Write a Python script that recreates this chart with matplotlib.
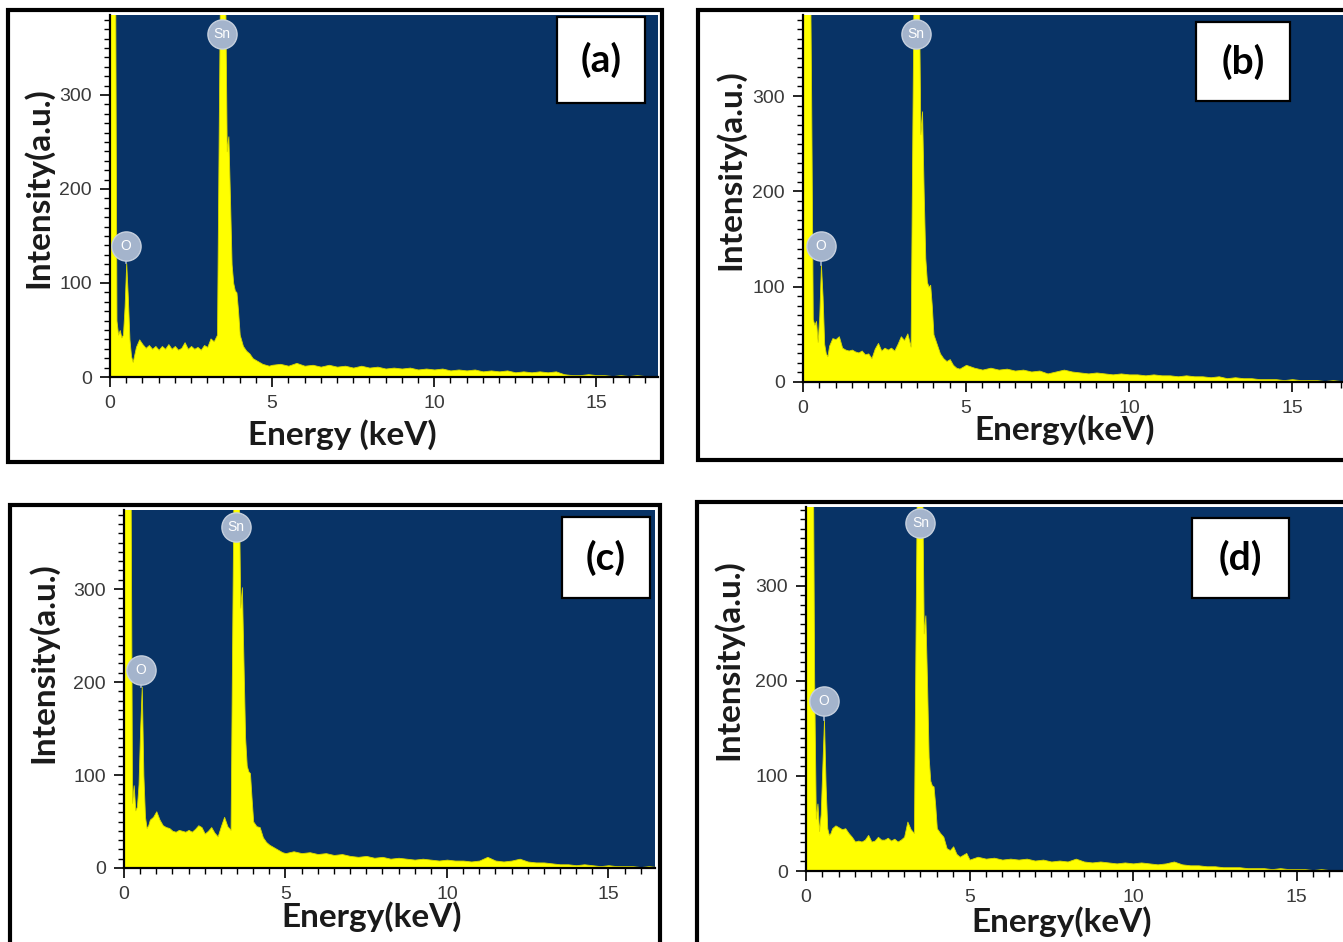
import numpy as np
import matplotlib.pyplot as plt
from matplotlib.patches import Rectangle
from matplotlib.ticker import MultipleLocator

W, H = 1343, 942

# energy channels (keV): fine grid below 5 keV, coarser tail above
energy_low = [0.0, 0.05, 0.1, 0.15, 0.2, 0.25, 0.3, 0.35, 0.4, 0.45, 0.5, 0.55, 0.6, 0.65, 0.7, 0.75, 0.8,
              0.9, 1.0, 1.1, 1.2, 1.3, 1.4, 1.5, 1.6, 1.7, 1.8, 1.9, 2.0,
              2.1, 2.2, 2.3, 2.4, 2.5, 2.6, 2.7, 2.8, 2.9, 3.0, 3.1, 3.2, 3.3,
              3.35, 3.4, 3.45, 3.5, 3.55, 3.6, 3.65, 3.7, 3.75, 3.8, 3.85, 3.9, 3.95, 4.0,
              4.1, 4.2, 4.3, 4.4, 4.5, 4.6, 4.7, 4.8, 4.9, 5.0]
energy_tail = np.arange(5.25, 17.01, 0.25)
energy = np.concatenate([energy_low, energy_tail])

counts_a = [450, 500, 500, 500, 60, 45, 50, 42, 45, 75, 121, 85, 40, 22, 16, 24, 32,
            40, 35, 31, 34, 30, 33, 29, 33, 30, 35, 30, 33,
            29, 31, 37, 30, 33, 30, 32, 29, 34, 32, 41, 38, 45,
            250, 450, 460, 450, 420, 240, 256, 190, 120, 100, 92, 90, 70, 45,
            33, 28, 25, 20, 18, 16, 14, 13, 12, 13,
            14, 12, 15, 12, 13, 11, 13, 11, 12, 10, 12, 10, 11, 9, 10, 9,
            10, 8, 9, 8, 9, 7, 8, 7, 8, 6, 7, 6, 7, 5, 6, 5,
            6, 5, 6, 3, 2, 2, 3, 2, 2, 1, 2, 1, 2, 1, 1, 1]
counts_b = [400, 500, 500, 500, 500, 300, 66, 60, 64, 42, 70, 123, 90, 40, 30, 27, 38,
            46, 45, 48, 36, 34, 33, 34, 32, 31, 33, 29, 30,
            25, 35, 41, 33, 36, 34, 36, 33, 40, 48, 44, 51, 37,
            250, 450, 460, 450, 420, 260, 284, 200, 130, 105, 100, 102, 80, 50,
            40, 30, 25, 22, 24, 18, 15, 14, 16, 18,
            15, 13, 15, 13, 14, 12, 13, 11, 12, 9, 11, 13, 11, 10, 9, 10,
            9, 8, 9, 8, 8, 7, 8, 7, 7, 6, 7, 6, 6, 5, 6, 4,
            5, 4, 4, 3, 3, 3, 2, 3, 2, 2, 2, 1, 2, 1, 1, 1]
counts_c = [400, 500, 500, 500, 450, 70, 89, 62, 66, 90, 150, 195, 100, 55, 43, 46, 52,
            55, 61, 52, 46, 44, 43, 40, 39, 41, 40, 39, 41,
            39, 42, 46, 44, 37, 40, 44, 38, 34, 45, 55, 45, 41,
            250, 450, 460, 450, 420, 280, 302, 220, 140, 110, 104, 102, 75, 50,
            45, 44, 33, 28, 25, 23, 21, 19, 17, 16,
            18, 16, 17, 15, 16, 14, 15, 13, 12, 13, 11, 12, 10, 11, 10, 9,
            10, 9, 8, 9, 8, 8, 7, 8, 12, 8, 7, 8, 10, 7, 6, 6,
            5, 4, 4, 3, 4, 3, 2, 3, 2, 2, 2, 1, 2, 1, 1, 1]
counts_d = [400, 500, 500, 500, 500, 200, 55, 71, 42, 60, 110, 159, 90, 45, 38, 40, 45,
            48, 46, 44, 45, 40, 36, 31, 32, 31, 33, 38, 31,
            32, 36, 33, 33, 35, 32, 34, 31, 33, 36, 52, 44, 40,
            250, 450, 460, 450, 420, 250, 269, 200, 120, 95, 90, 89, 70, 45,
            40, 36, 24, 22, 26, 18, 15, 17, 19, 12,
            15, 13, 14, 12, 13, 12, 13, 11, 12, 10, 11, 10, 13, 10, 9, 10,
            9, 8, 9, 8, 9, 8, 7, 8, 10, 7, 6, 6, 5, 5, 4, 4,
            4, 3, 3, 3, 2, 3, 2, 2, 2, 1, 2, 1, 1, 1, 1, 1]

panel_names = ['(a)', '(b)', '(c)', '(d)']
xlabels = ['Energy (keV)', 'Energy(keV)', 'Energy(keV)', 'Energy(keV)']
ylabel = 'Intensity(a.u.)'
elements = ['Sn', 'O']
sn_marks = [(3.46, 365), (3.47, 365), (3.47, 367), (3.50, 366)]
o_marks = [(0.49, 139), (0.55, 143), (0.53, 213), (0.55, 179)]
spectra = [counts_a, counts_b, counts_c, counts_d]

# layout in pixels: frame box, plot area, limits, label box, label positions
layout = [
    dict(frame=(8, 10, 662, 462), axes=(110, 15, 658, 377), xmax=16.9, ymax=385,
         box=(557, 17, 645, 103), xl=(342, 435), yl=(38, 188)),
    dict(frame=(698, 10, 1355, 460), axes=(803, 15, 1343, 382), xmax=16.56, ymax=385,
         box=(1196, 22, 1290, 101), xl=(1065, 430), yl=(730, 170)),
    dict(frame=(10, 505, 660, 955), axes=(124, 510, 655, 868), xmax=16.44, ymax=385,
         box=(562, 517, 650, 598), xl=(372, 917), yl=(43, 663)),
    dict(frame=(697, 502, 1355, 955), axes=(806, 507, 1343, 871), xmax=16.42, ymax=383,
         box=(1192, 518, 1289, 598), xl=(1062, 922), yl=(728, 660)),
]

bg = '#083366'
yellow = '#ffff00'
bubble = '#a4b4cc'
label_font = ['Lato', 'DejaVu Sans']
tick_font = ['Liberation Sans', 'DejaVu Sans']

fig = plt.figure(figsize=(W / 100, H / 100), dpi=100)
fig.patch.set_facecolor('white')


def fx(x):
    return x / W


def fy(y):
    return 1 - y / H


for i in range(4):
    L = layout[i]
    x0, y0, x1, y1 = L['frame']
    fig.add_artist(Rectangle((fx(x0), fy(y1)), fx(x1 - x0), (y1 - y0) / H, transform=fig.transFigure,
                             facecolor='white', edgecolor='black', lw=3, zorder=0))

    a0, a1, a2, a3 = L['axes']
    ax = fig.add_axes([fx(a0), fy(a3), fx(a2 - a0), (a3 - a1) / H])
    ax.set_facecolor(bg)
    ax.fill_between(energy, spectra[i], 0, color=yellow, lw=0.6, edgecolor='#d8d800')
    ax.set_xlim(0, L['xmax'])
    ax.set_ylim(0, L['ymax'])
    ax.spines['top'].set_visible(False)
    ax.spines['right'].set_visible(False)
    for s in ('left', 'bottom'):
        ax.spines[s].set_linewidth(1.6)
    ax.xaxis.set_major_locator(MultipleLocator(5))
    ax.xaxis.set_minor_locator(MultipleLocator(0.5))
    ax.yaxis.set_major_locator(MultipleLocator(100))
    ax.yaxis.set_minor_locator(MultipleLocator(10))
    ax.tick_params(which='major', length=7, width=1.2, pad=6, labelsize=14, labelcolor='#3a3a3a')
    ax.tick_params(which='minor', length=4, width=1.0)
    ax.set_yticks([0, 100, 200, 300])
    for lab in ax.get_xticklabels() + ax.get_yticklabels():
        lab.set_family(tick_font)

    # element markers
    for el, (ex, ey) in zip(elements, [sn_marks[i], o_marks[i]]):
        k = int(np.argmin(np.abs(energy - ex)))
        ax.plot([ex, ex], [min(spectra[i][k], ey), ey], color=bubble, lw=1.2, zorder=3)
        ax.plot(ex, ey, 'o', ms=21, color=bubble, mec='#c6d0de', mew=1, zorder=4, clip_on=False)
        ax.text(ex, ey, el, color='white', fontsize=10, ha='center', va='center', zorder=5,
                family=tick_font)

    # panel label box
    b0, b1, b2, b3 = L['box']
    fig.add_artist(Rectangle((fx(b0), fy(b3)), fx(b2 - b0), (b3 - b1) / H, transform=fig.transFigure,
                             facecolor='white', edgecolor='black', lw=1.6, zorder=10))
    fig.text(fx((b0 + b2) / 2), fy((b1 + b3) / 2), panel_names[i], fontsize=28, fontweight='bold',
             family=label_font, ha='center', va='center', zorder=11)

    fig.text(fx(L['xl'][0]), fy(L['xl'][1]), xlabels[i], fontsize=24, fontweight='bold',
             family=label_font, ha='center', va='center', color='#1a1a1a')
    fig.text(fx(L['yl'][0]), fy(L['yl'][1]), ylabel, fontsize=24, fontweight='bold',
             family=label_font, ha='center', va='center', rotation=90, color='#1a1a1a')

fig.savefig('out.png', dpi=100, facecolor='white')
